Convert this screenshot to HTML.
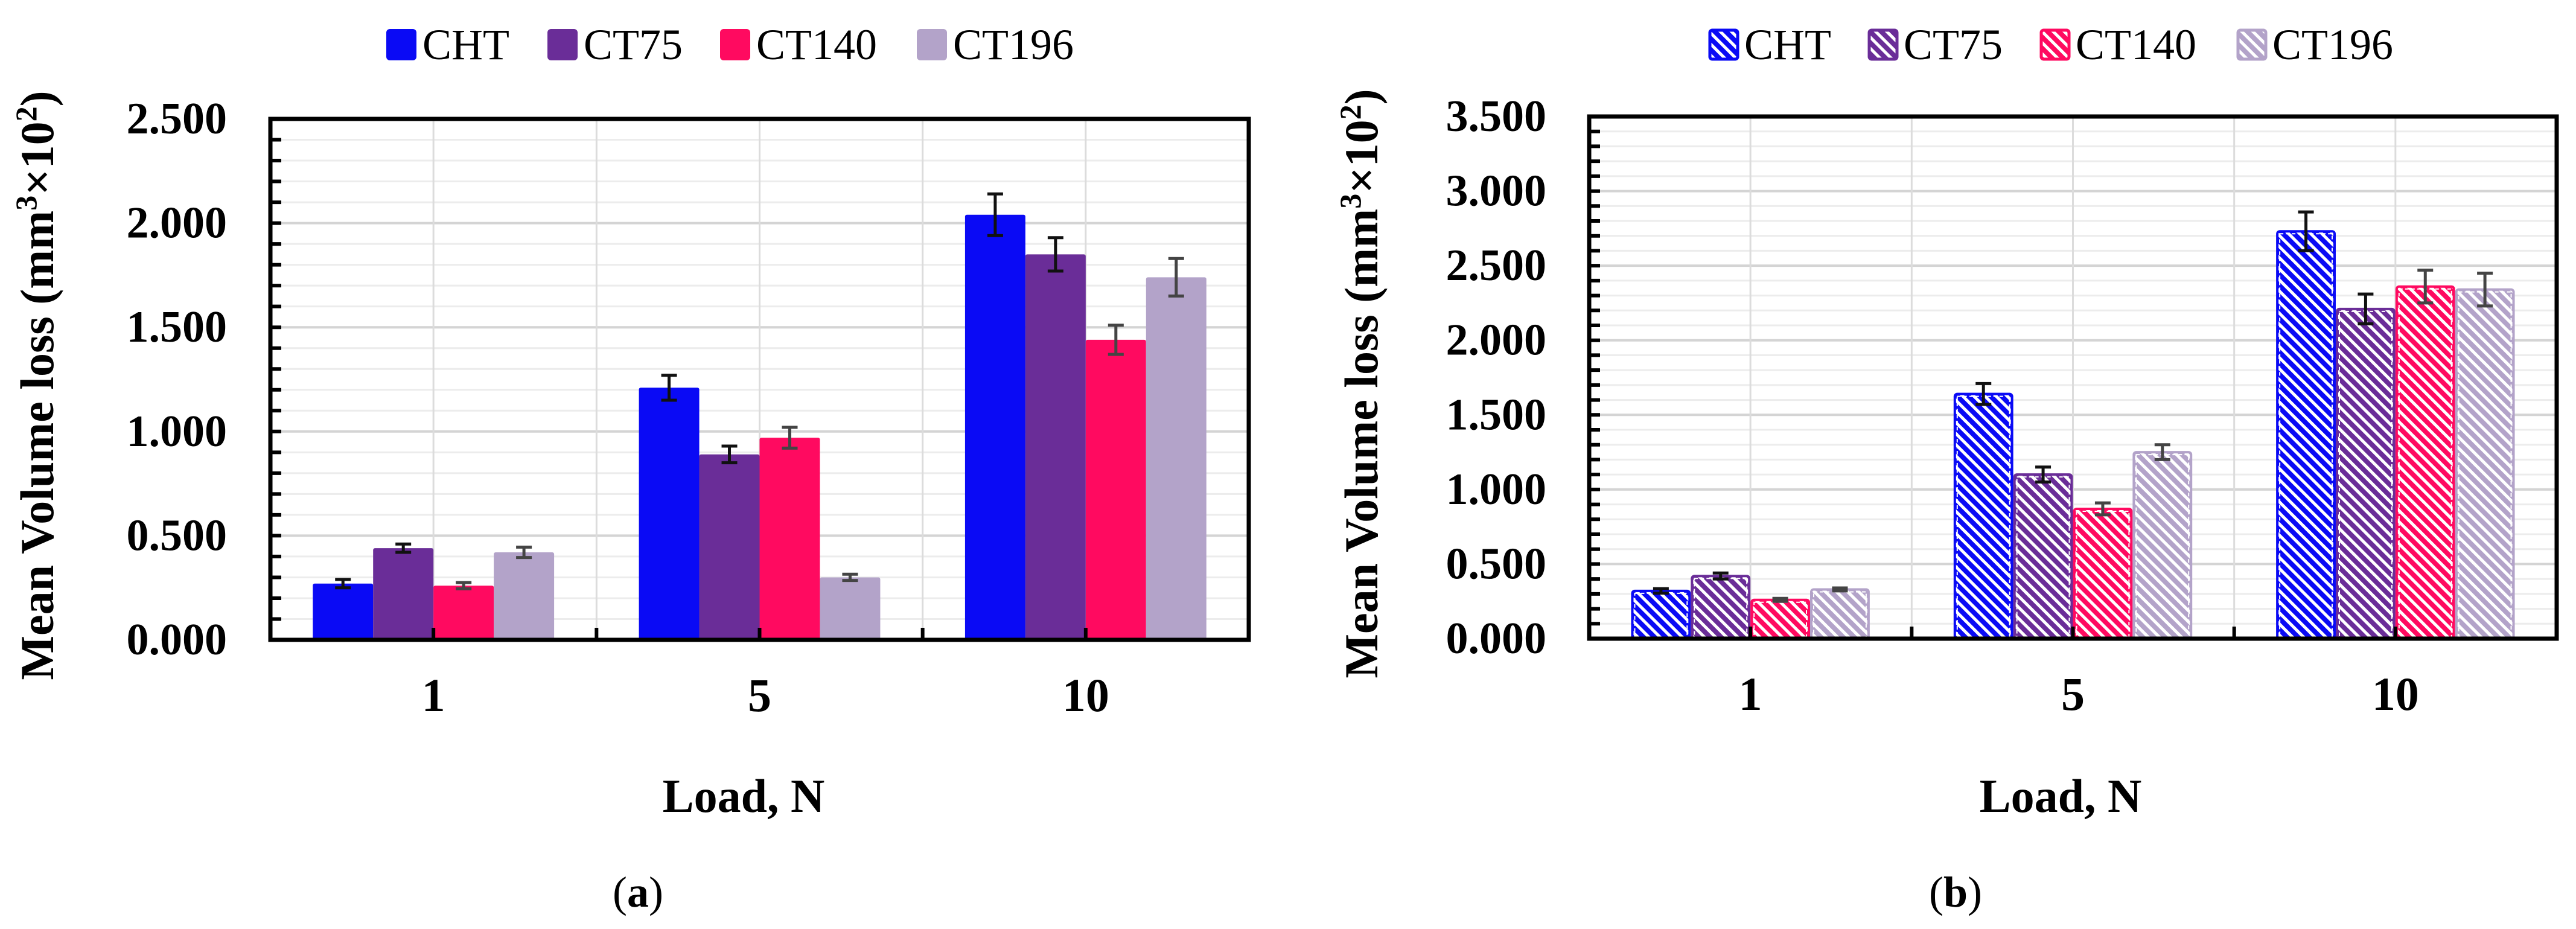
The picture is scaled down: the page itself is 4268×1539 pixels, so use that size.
<!DOCTYPE html>
<html><head><meta charset="utf-8"><style>
html,body{margin:0;padding:0;background:#fff;}
svg{display:block;font-family:"Liberation Serif","DejaVu Serif",serif;}
svg text{font-family:"Liberation Serif","DejaVu Serif",serif;}
</style></head><body>
<svg id="fig" width="4268" height="1539" viewBox="0 0 4268 1539" xmlns="http://www.w3.org/2000/svg" font-family="Liberation Serif, DejaVu Serif, serif">
<defs>
<pattern id="hatch-0" patternUnits="userSpaceOnUse" width="13" height="13" patternTransform="rotate(45)"><rect width="13" height="13" fill="#fff"/><rect width="13" height="8" fill="#0a0af5"/></pattern>
<pattern id="hatch-1" patternUnits="userSpaceOnUse" width="13" height="13" patternTransform="rotate(45)"><rect width="13" height="13" fill="#fff"/><rect width="13" height="8" fill="#6a2d98"/></pattern>
<pattern id="hatch-2" patternUnits="userSpaceOnUse" width="13" height="13" patternTransform="rotate(45)"><rect width="13" height="13" fill="#fff"/><rect width="13" height="8" fill="#ff0a60"/></pattern>
<pattern id="hatch-3" patternUnits="userSpaceOnUse" width="13" height="13" patternTransform="rotate(45)"><rect width="13" height="13" fill="#fff"/><rect width="13" height="8" fill="#b3a3c9"/></pattern>
</defs>
</svg>
<script>
const categories = ["1","5","10"];
const seriesNames = ["CHT","CT75","CT140","CT196"];
const aCHT = [0.27,1.21,2.04];
const aCT75 = [0.44,0.89,1.85];
const aCT140 = [0.26,0.97,1.44];
const aCT196 = [0.42,0.30,1.74];
const aErrCHT = [0.02,0.06,0.10];
const aErrCT75 = [0.02,0.04,0.08];
const aErrCT140 = [0.015,0.05,0.07];
const aErrCT196 = [0.025,0.015,0.09];
const bCHT = [0.32,1.64,2.73];
const bCT75 = [0.42,1.10,2.21];
const bCT140 = [0.26,0.87,2.36];
const bCT196 = [0.33,1.25,2.34];
const bErrCHT = [0.015,0.07,0.13];
const bErrCT75 = [0.02,0.05,0.10];
const bErrCT140 = [0.01,0.04,0.11];
const bErrCT196 = [0.01,0.05,0.11];
const aTicks = ["0.000","0.500","1.000","1.500","2.000","2.500"];
const bTicks = ["0.000","0.500","1.000","1.500","2.000","2.500","3.000","3.500"];

const colors = ["#0a0af5","#6a2d98","#ff0a60","#b3a3c9"];
const errColors = ["#111","#111","#444","#444"];
const NS = "http://www.w3.org/2000/svg";
const svg = document.getElementById("fig");
const FF = "Liberation Serif, DejaVu Serif, serif";
function mk(tag, attrs, parent, txt){
  const e = document.createElementNS(NS, tag);
  for (const k in attrs) e.setAttribute(k, attrs[k]);
  if (tag === "text") e.setAttribute("font-family", FF);
  if (txt !== undefined) e.textContent = txt;
  (parent||svg).appendChild(e);
  return e;
}

function chart(cfg){
  const g = mk("g", {});
  
  
  const L=cfg.left, R=cfg.right, T=cfg.top, B=cfg.bottom, maxV=cfg.max;
  const y = v => B - (v/maxV)*(B-T);
  const cw = (R-L)/categories.length;
  const x = i => L + cw*(i+0.5);
  const nMinor = Math.round(maxV/0.1);
  for (let k=1;k<=nMinor;k++){
    const major = k%5===0;
    const gl = mk("line",{x1:L,x2:R,y1:y(k*0.1),y2:y(k*0.1),stroke:major?"#d4d4d4":"#ececec","stroke-width":major?4:3},g);
    
    
  }
  for (let i=0;i<categories.length;i++){
    for (const xx of [x(i), L+cw*(i+1)]){
      if (xx>=R-2) continue;
      const vl = mk("line",{x1:xx,x2:xx,y1:T,y2:B,stroke:"#dcdcdc","stroke-width":3},g);
      
      
    }
  }
  const groupW = cw*0.74, bw = groupW/4;
  for (let s=0;s<4;s++){
    const vals = cfg.series[s], errs = cfg.errs[s];
    for (let i=0;i<categories.length;i++){
      const bx = x(i) - groupW/2 + s*bw;
      const by = y(vals[i]);
      let r;
      if (cfg.hatched){
        r = mk("rect",{x:bx+2,y:by,width:bw-4,height:B-by,fill:"url(#hatch-"+s+")",stroke:colors[s],"stroke-width":4,rx:4},g);
        mk("rect",{x:bx+6,y:by+4,width:bw-12,height:B-by-4,fill:"none",stroke:"#fff","stroke-width":2,"stroke-dasharray":"6 4"},g);
      } else {
        r = mk("rect",{x:bx,y:by,width:bw,height:B-by,fill:colors[s],rx:3},g);
      }
      
      
      const cx = bx+bw/2, e = errs[i];
      const eb = mk("path",{d:`M${cx-13},${y(vals[i]+e)}H${cx+13}M${cx},${y(vals[i]+e)}V${y(vals[i]-e)}M${cx-13},${y(vals[i]-e)}H${cx+13}`,stroke:errColors[s],"stroke-width":5,fill:"none"},g);
      
      
    }
  }
  const fr = mk("rect",{x:L,y:T,width:R-L,height:B-T,fill:"none",stroke:"#000","stroke-width":7},g);
  
  
  for (let k=1;k<nMinor;k++){
    const t = mk("line",{x1:L,x2:L+18,y1:y(k*0.1),y2:y(k*0.1),stroke:"#000","stroke-width":6},g);
    
    
  }
  for (let i=0;i<categories.length;i++){
    for (const xx of [x(i), L+cw*(i+1)]){
      if (xx>=R-2) continue;
      const t = mk("line",{x1:xx,x2:xx,y1:B-20,y2:B,stroke:"#000","stroke-width":6},g);
      
      
    }
    const cl = mk("text",{x:x(i),y:B+118,"text-anchor":"middle","font-size":78,"font-weight":"bold"},g,categories[i]);
    
    
  }
  cfg.ticks.forEach((t,k)=>{
    const tl = mk("text",{x:cfg.tickX,y:y(k*0.5)+24,"text-anchor":"end","font-size":74,"font-weight":"bold"},g,t);
    
    
  });
  const yt = mk("text",{x:0,y:0,"text-anchor":"middle","font-size":78,"font-weight":"bold",transform:`translate(${cfg.titleX},${(T+B)/2+10}) rotate(-90)`},g);
  
  
  yt.innerHTML = 'Mean Volume loss (mm<tspan font-size="50" dy="-28">3</tspan><tspan dy="28">×10</tspan><tspan font-size="50" dy="-28">2</tspan><tspan dy="28">)</tspan>';
  const xt = mk("text",{x:cfg.xTitleX,y:1345,"text-anchor":"middle","font-size":78,"font-weight":"bold"},g,"Load, N");
  
  
  const pl = mk("text",{x:cfg.panelX,y:1502,"text-anchor":"middle","font-size":72},g);
  
  
  pl.innerHTML = '(<tspan font-weight="bold">'+cfg.panel+'</tspan>)';
  cfg.legendX.forEach((lx,s)=>{
    const le = mk("g",{},g);
    
    
    if (cfg.hatched){
      mk("rect",{x:lx+3,y:50,width:46,height:48,fill:"url(#hatch-"+s+")",stroke:colors[s],"stroke-width":5,rx:4},le);
    } else {
      mk("rect",{x:lx,y:48,width:50,height:52,fill:colors[s],rx:6},le);
    }
    mk("text",{x:lx+60,y:98,"font-size":72},le,seriesNames[s]);
  });
}

chart({name:"chart-a", left:448, right:2069, top:197, bottom:1060, max:2.5,
  series:[aCHT,aCT75,aCT140,aCT196], errs:[aErrCHT,aErrCT75,aErrCT140,aErrCT196],
  ticks:aTicks, tickX:376, titleX:88, xTitleX:1232, panelX:1057, panel:"a",
  legendX:[640,907,1193,1519], hatched:false});
chart({name:"chart-b", left:2633, right:4236, top:193, bottom:1058, max:3.5,
  series:[bCHT,bCT75,bCT140,bCT196], errs:[bErrCHT,bErrCT75,bErrCT140,bErrCT196],
  ticks:bTicks, tickX:2562, titleX:2282, xTitleX:3414, panelX:3240, panel:"b",
  legendX:[2830,3094,3379,3705], hatched:true});
</script>
</body></html>
